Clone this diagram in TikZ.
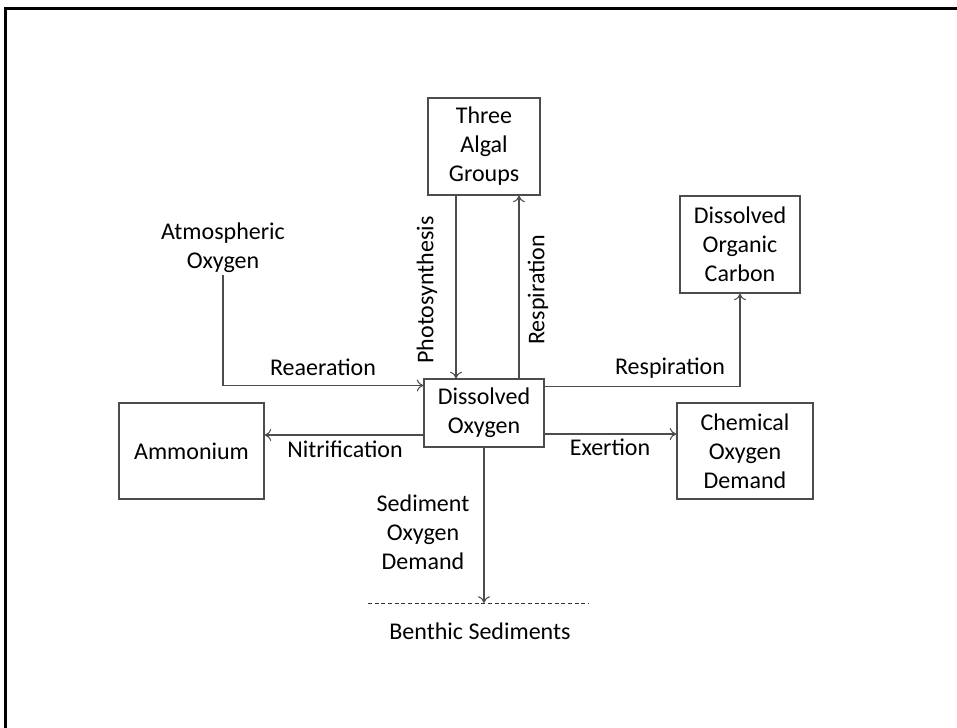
\documentclass[tikz,border=0pt]{standalone}
\usepackage{fontspec}
\setmainfont{Carlito}
\usetikzlibrary{calc,arrows.meta}
\begin{document}
\begin{tikzpicture}[x=0.75pt,y=-0.75pt,
  font=\fontsize{18}{21.75}\selectfont,
  box/.style={draw=black!70,line width=0.8pt,align=center,inner sep=0pt},
  lbl/.style={align=center,inner sep=0pt},
  arr/.style={draw=black!70,line width=0.8pt,-{To[length=5pt,width=9pt]}},
  link/.style={draw=black!70,line width=0.8pt}]
\useasboundingbox (0,0) rectangle (957,728);
% page frame (left and top edges)
\draw[line width=2pt] (5.5,740) -- (5.5,8.3) -- (970,8.3);

% boxes
\node[box,minimum width=112*0.75pt,minimum height=97*0.75pt] (algae) at (484,146.5) {Three\\Algal\\Groups};
\node[box,minimum width=120*0.75pt,minimum height=68*0.75pt] (do) at (484,413) {Dissolved\\Oxygen};
\node[box,minimum width=120*0.75pt,minimum height=97*0.75pt] (doc) at (740,244.5) {Dissolved\\Organic\\Carbon};
\node[box,minimum width=145*0.75pt,minimum height=96*0.75pt] (amm) at (191.5,451) {Ammonium};
\node[box,minimum width=136*0.75pt,minimum height=96*0.75pt] (cod) at (745,451) {Chemical\\Oxygen\\Demand};
\node[lbl,minimum height=54*0.75pt] (atm) at (223,247.5) {Atmospheric\\Oxygen};
\node[lbl] (benthic) at (480,631) {Benthic Sediments};

% sediment surface
\coordinate (bedL) at (368,603);
\coordinate (bedR) at (589,603);
\draw[black!80,line width=0.7pt,dash pattern=on 3pt off 2pt] (bedL) -- (bedR);
\coordinate (bed) at ($(do.south)!1!(do.south |- bedL)$);

% connectors
\draw[arr] ($(algae.south)+(-28,0)$) -- ($(do.north)+(-28,0)$);
\draw[arr] ($(do.north)+(35,0)$) -- ($(algae.south)+(35,0)$);
\draw[arr] (atm.south) |- ($(do.north west)+(0,7)$);
\draw[arr] ($(do.west)+(0,22)$) -- ($(amm.east |- do.west)+(0,22)$);
\draw[arr] ($(do.north east)+(0,8)$) -| (doc.south);
\draw[arr] ($(do.east)+(0,21)$) -- ($(cod.west |- do.east)+(0,21)$);
\draw[arr] (do.south) -- (bed);

% flow labels
\node[lbl] (lreaer) at (323,367) {Reaeration};
\node[lbl,rotate=90] (lphoto) at (427,290) {Photosynthesis};
\node[lbl,rotate=90] (lresp1) at (538,290) {Respiration};
\node[lbl] (lresp2) at (670,368) {Respiration};
\node[lbl] (lnitr) at (345,449) {Nitrification};
\node[lbl] (lexert) at (610,447) {Exertion};
\node[lbl] (lsod) at (423,532.5) {Sediment\\Oxygen\\Demand};
\end{tikzpicture}
\end{document}
